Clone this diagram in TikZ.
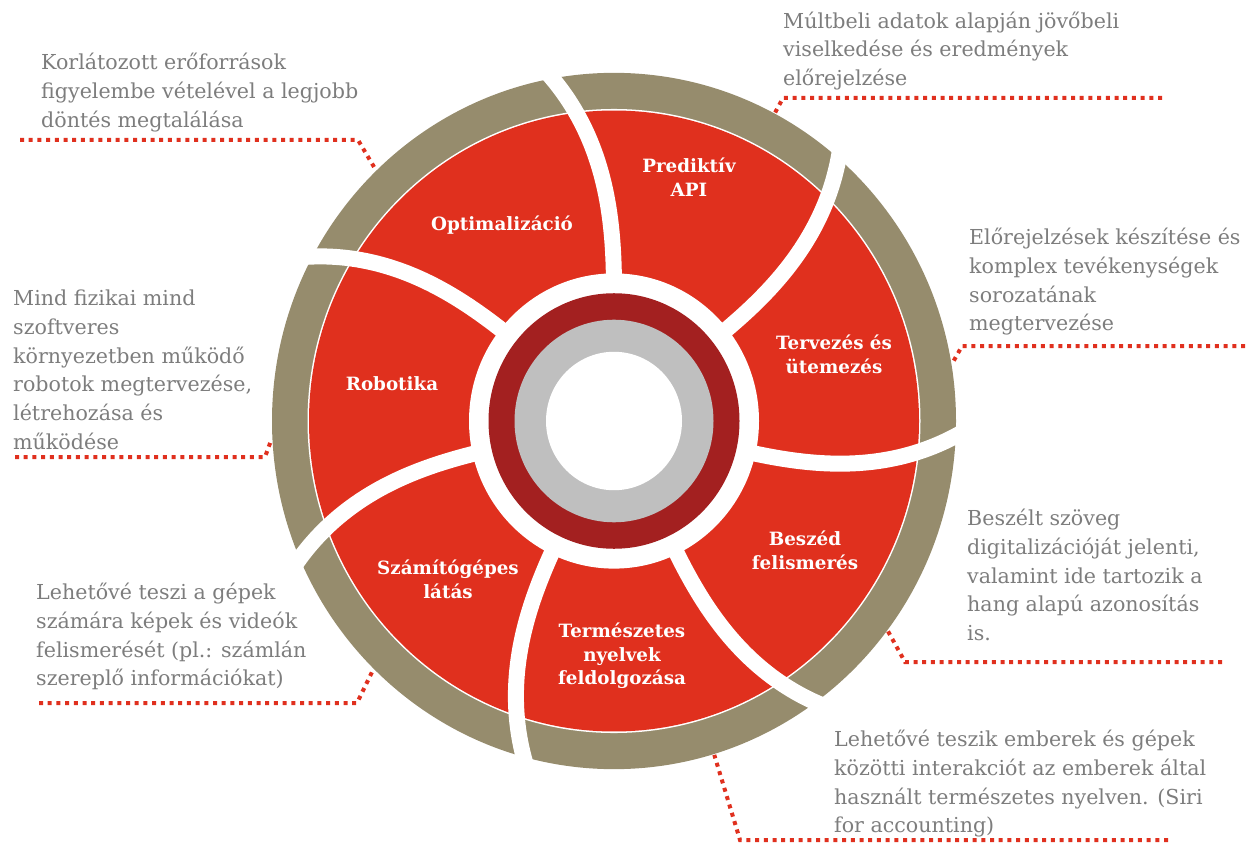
\documentclass[tikz,border=0pt]{standalone}
\usepackage{fontspec}
\setmainfont{DejaVu Serif}
\usetikzlibrary{calc}
\definecolor{segred}{RGB}{224,48,30}
\definecolor{hubred}{RGB}{163,32,32}
\definecolor{ringtan}{RGB}{150,140,109}
\definecolor{hubgray}{RGB}{191,191,191}
\definecolor{notegray}{RGB}{125,125,125}

\tikzset{
  seglabel/.style={text=white, inner sep=0, anchor=north, align=center,
    font=\bfseries\fontsize{18.3}{23.5}\selectfont},
  note/.style={text=notegray, inner sep=0, anchor=north west, align=left,
    font=\fontsize{20.6}{28.7}\selectfont},
  leader/.style={segred, line width=4pt, dash pattern=on 4pt off 4.7pt},
}

\begin{document}
\begin{tikzpicture}[x=1pt,y=-1pt]
\useasboundingbox (0,0) rectangle (1248,845);

% the wheel, y pointing up inside
\begin{scope}[shift={(614,421)}, yscale=-1.018]
  \fill[ringtan] (0,0) circle (342);
  \fill[white] (0,0) circle (306.5);
  \fill[segred] (0,0) circle (305);
  % curved white cuts between the seven segments
  \foreach \k in {0,...,6} {
    \draw[white, line width=16pt] plot[domain=0:1, samples=25, smooth]
      ({90-51.43*\k+12*\x*\x}:{128+230*\x});
  }
  \fill[white] (0,0) circle (145);
  \fill[hubred] (0,0) circle (125.5);
  \fill[hubgray] (0,0) circle (99.5);
  \fill[white] (0,0) circle (68);
  % where the leaders touch the ring
  \coordinate (e1) at (134:343);
  \coordinate (e2) at (62:343);
  \coordinate (e3) at (9.5:343);
  \coordinate (e4) at (183:343);
  \coordinate (e5) at (-37:343);
  \coordinate (e6) at (-134.6:343);
  \coordinate (e7) at (-73:343);
\end{scope}

% segment names
\node[seglabel] (opt) at (502,216) {Optimalizáció};
\node[seglabel] (pred) at (689,158) {Prediktív\\API};
\node[seglabel] (terv) at (834,335) {Tervezés és\\ütemezés};
\node[seglabel] (robot) at (392,376) {Robotika};
\node[seglabel] (beszed) at (805,531) {Beszéd\\felismerés};
\node[seglabel] (latas) at (448,560) {Számítógépes\\látás};
\node[seglabel] (nyelv) at (622,623) {Természetes\\nyelvek\\feldolgozása};

% notes around the wheel
\node[note] (n1) at (41,53) {Korlátozott erőforrások\\figyelembe vételével a legjobb\\döntés megtalálása};
\node[note] (n2) at (783,11.5) {Múltbeli adatok alapján jövőbeli\\viselkedése és eredmények\\előrejelzése};
\node[note] (n3) at (969,228) {Előrejelzések készítése és\\komplex tevékenységek\\sorozatának\\megtervezése};
\node[note] (n4) at (13,290) {Mind fizikai mind\\szoftveres\\környezetben működő\\robotok megtervezése,\\létrehozása és\\működése};
\node[note] (n5) at (967,509) {Beszélt szöveg\\digitalizációját jelenti,\\valamint ide tartozik a\\hang alapú azonosítás\\is.};
\node[note] (n6) at (36,583) {Lehetővé teszi a gépek\\számára képek és videók\\felismerését (pl.: számlán\\szereplő információkat)};
\node[note] (n7) at (834,730) {Lehetővé teszik emberek és gépek\\közötti interakciót az emberek által\\használt természetes nyelven. (Siri\\for accounting)};

% dotted leaders
\coordinate (s1) at (20,140);   \coordinate (k1) at (358,140);
\coordinate (s2) at (1162,98);  \coordinate (k2) at (783,98);
\coordinate (s3) at (1245,346); \coordinate (k3) at (962,346);
\coordinate (s4) at (15,457);   \coordinate (k4) at (265,457);
\coordinate (s5) at (1222,662); \coordinate (k5) at (905,662);
\coordinate (s6) at (39,703);   \coordinate (k6) at (357,703);
\coordinate (s7) at (1168,840); \coordinate (k7) at (740,840);
\foreach \i in {1,...,7}
  \draw[leader] (s\i) -- (k\i) -- (e\i);
\end{tikzpicture}
\end{document}
